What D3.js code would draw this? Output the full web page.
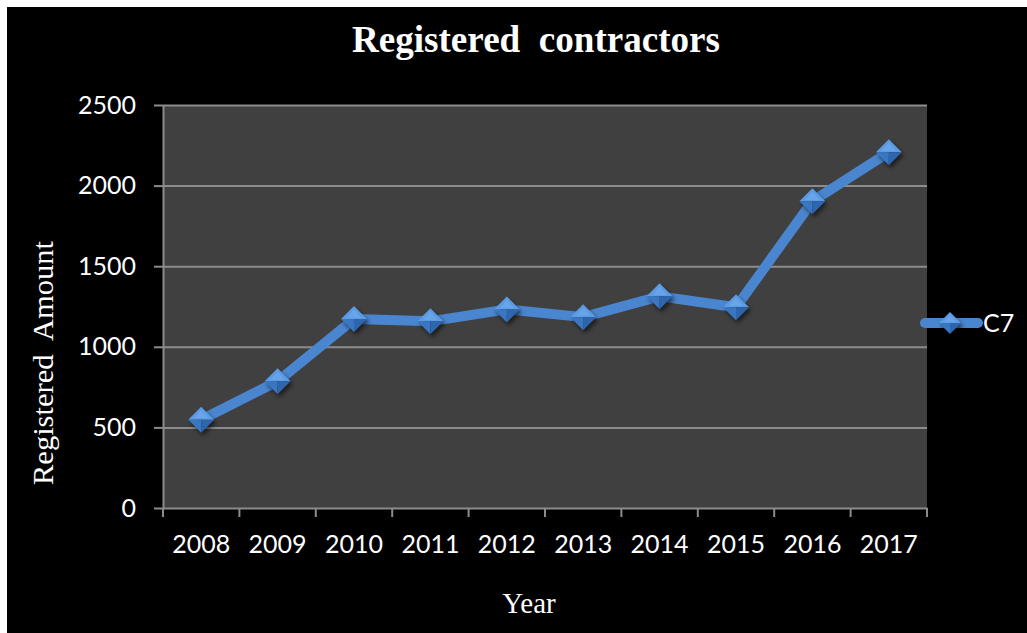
<!DOCTYPE html>
<html>
<head>
<meta charset="utf-8">
<script src="https://cdn.jsdelivr.net/npm/d3@7"></script>
<style>
  body { margin: 0; background: #fff; }
  svg { display: block; }
</style>
</head>
<body>
<script>
// chart data
var years = ["2008", "2009", "2010", "2011", "2012", "2013", "2014", "2015", "2016", "2017"];
var registered = [548, 786, 1172, 1158, 1232, 1184, 1313, 1245, 1903, 2207];
var yTicks = [0, 500, 1000, 1500, 2000, 2500];
var seriesName = "C7";

var width = 1027, height = 633;
var plot = {left: 163, right: 927, top: 105, bottom: 508};

var svg = d3.select("body").append("svg")
    .attr("width", width)
    .attr("height", height);

// white page edge, black chart area
svg.append("rect").attr("width", width).attr("height", height).attr("fill", "#fff");
svg.append("rect").attr("x", 7).attr("y", 7)
    .attr("width", width - 7).attr("height", height - 7).attr("fill", "#000");

var defs = svg.append("defs");
defs.append("filter").attr("id", "shadow")
    .attr("x", "-50%").attr("y", "-50%").attr("width", "200%").attr("height", "200%")
  .append("feGaussianBlur").attr("stdDeviation", 2);

var x = d3.scaleBand()
    .domain(years)
    .range([plot.left, plot.right])
    .padding(0);

var y = d3.scaleLinear()
    .domain([0, 2500])
    .range([plot.bottom, plot.top]);

// plot background
svg.append("rect")
    .attr("x", plot.left).attr("y", plot.top)
    .attr("width", plot.right - plot.left).attr("height", plot.bottom - plot.top)
    .attr("fill", "#404040");

// gridlines
svg.append("g")
    .attr("transform", "translate(" + plot.left + ",0)")
    .call(d3.axisLeft(y).tickValues(yTicks.slice(1)).tickSize(-(plot.right - plot.left)).tickFormat(""))
    .call(function(g) {
      g.select(".domain").remove();
      g.selectAll("line").attr("stroke", "#8c8c8c").attr("stroke-width", 2);
    });

// y axis
var yAxis = svg.append("g")
    .attr("transform", "translate(" + plot.left + ",0)")
    .call(d3.axisLeft(y).tickValues(yTicks).tickFormat(d3.format("d"))
      .tickSize(9).tickPadding(18).tickSizeOuter(0));
yAxis.select(".domain").attr("stroke", "#8c8c8c").attr("stroke-width", 2);
yAxis.selectAll("line").attr("stroke", "#8c8c8c").attr("stroke-width", 2);
yAxis.selectAll("text")
    .attr("fill", "#fff")
    .style("font-family", "Lato, 'Open Sans', sans-serif")
    .style("font-size", "25px");

// x axis, ticks on category boundaries
var xAxis = svg.append("g")
    .attr("transform", "translate(0," + plot.bottom + ")")
    .call(d3.axisBottom(x).tickSize(0).tickPadding(27));
xAxis.select(".domain").attr("stroke", "#8c8c8c").attr("stroke-width", 2);
xAxis.selectAll("text")
    .attr("fill", "#fff")
    .style("font-family", "Lato, 'Open Sans', sans-serif")
    .style("font-size", "25px");
xAxis.selectAll(".boundary")
    .data(years.concat(["end"]))
    .enter().append("line")
    .attr("class", "boundary")
    .attr("x1", function(d, i) { return i < years.length ? x(d) : x.range()[1]; })
    .attr("x2", function(d, i) { return i < years.length ? x(d) : x.range()[1]; })
    .attr("y1", 0).attr("y2", 9)
    .attr("stroke", "#8c8c8c").attr("stroke-width", 2);

// series line
var line = d3.line()
    .x(function(d, i) { return x(years[i]) + x.bandwidth() / 2; })
    .y(function(d) { return y(d); });

svg.append("path")
    .datum(registered)
    .attr("d", line)
    .attr("fill", "none")
    .attr("stroke", "#4a86d0")
    .attr("stroke-width", 10)
    .attr("stroke-linejoin", "round");

// diamond marker drawn as facets
function drawDiamond(g, cx, cy, r) {
  g.append("path")
      .attr("d", "M" + (cx + 2) + "," + (cy + 3 - r) + "L" + (cx + 2 + r) + "," + (cy + 3) +
                 "L" + (cx + 2) + "," + (cy + 3 + r) + "L" + (cx + 2 - r) + "," + (cy + 3) + "Z")
      .attr("fill", "#000").attr("opacity", 0.55).attr("filter", "url(#shadow)");
  var facets = [
    {p: [[0, -r], [r, 0], [-r, 0]], c: "#5c9be3"},
    {p: [[-r, 0], [0, 0], [0, r]], c: "#3b76c2"},
    {p: [[r, 0], [0, 0], [0, r]], c: "#2e66ad"}
  ];
  facets.forEach(function(f) {
    g.append("path")
        .attr("d", "M" + f.p.map(function(q) { return (cx + q[0]) + "," + (cy + q[1]); }).join("L") + "Z")
        .attr("fill", f.c);
  });
  g.append("path")
      .attr("d", "M" + (cx - r * 0.55) + "," + (cy - r * 0.1) + "L" + cx + "," + (cy - r * 0.75) +
                 "L" + (cx + r * 0.55) + "," + (cy - r * 0.1) + "Z")
      .attr("fill", "#6eaaee").attr("opacity", 0.6);
}

var markers = svg.append("g");
registered.forEach(function(d, i) {
  drawDiamond(markers, x(years[i]) + x.bandwidth() / 2, y(d), 13);
});

// legend
var legend = svg.append("g");
legend.append("line")
    .attr("x1", 925).attr("x2", 978).attr("y1", 323).attr("y2", 323)
    .attr("stroke", "#4a86d0").attr("stroke-width", 10).attr("stroke-linecap", "round");
drawDiamond(legend, 950, 323, 11);
legend.append("text")
    .attr("x", 983).attr("y", 332)
    .attr("fill", "#fff")
    .style("font-family", "Lato, 'Open Sans', sans-serif")
    .style("font-size", "25px")
    .text(seriesName);

// titles
svg.append("text")
    .attr("x", 536).attr("y", 52)
    .attr("text-anchor", "middle")
    .attr("fill", "#fff")
    .attr("textLength", 368)
    .attr("lengthAdjust", "spacingAndGlyphs")
    .style("font-family", "'Liberation Serif', 'Times New Roman', serif")
    .style("font-weight", "bold")
    .style("font-size", "38px")
    .style("white-space", "pre")
    .text("Registered  contractors");

svg.append("text")
    .attr("transform", "translate(53,363) rotate(-90)")
    .attr("text-anchor", "middle")
    .attr("fill", "#fff")
    .attr("textLength", 244)
    .attr("lengthAdjust", "spacingAndGlyphs")
    .style("font-family", "'Liberation Serif', 'Times New Roman', serif")
    .style("font-size", "30px")
    .style("white-space", "pre")
    .text("Registered  Amount");

svg.append("text")
    .attr("x", 529).attr("y", 613)
    .attr("text-anchor", "middle")
    .attr("fill", "#fff")
    .style("font-family", "'Liberation Serif', 'Times New Roman', serif")
    .style("font-size", "29px")
    .text("Year");
</script>
</body>
</html>
